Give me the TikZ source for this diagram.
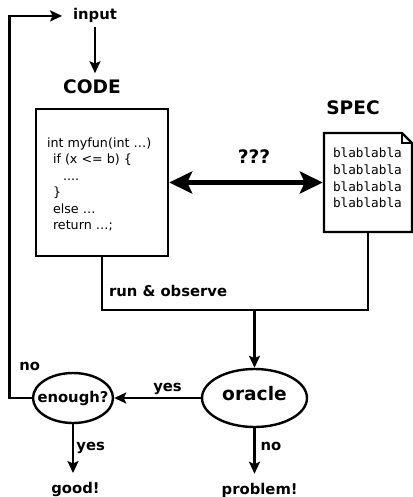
\documentclass[tikz,border=0pt]{standalone}
\usepackage{fontspec}
\setmainfont{DejaVu Sans}
\newfontfamily\blamono{DejaVu Sans Mono}
\usetikzlibrary{arrows.meta,shapes.geometric}

\begin{document}
\begin{tikzpicture}[x=1pt,y=-1pt,
  every node/.style={inner sep=0pt, outer sep=0pt},
  lbl/.style={font=\fontsize{14.8}{17}\selectfont\bfseries, anchor=base},
  biglbl/.style={font=\fontsize{18.6}{21}\selectfont\bfseries, anchor=base},
  codeline/.style={font=\fontsize{12.7}{15}\selectfont, anchor=base west},
  blaline/.style={font=\blamono\fontsize{12.7}{15}\selectfont, anchor=base west},
  frame/.style={draw, line width=2.4pt},
  wire/.style={line width=2.4pt},
  flow/.style={line width=2.4pt, shorten >=1.2pt,
    -{Stealth[length=12pt,width=11pt,inset=2.5pt]}},
]
\useasboundingbox (0,0) rectangle (412,497);

% input and the code under test
\node[lbl] (input) at (95,20) {input};
\node[biglbl] (codelbl) at (92,94) {CODE};
\node[frame, minimum width=132pt, minimum height=147pt] (code) at (102,182.5) {};
\node[codeline] (cl1) at (47,147) {int myfun(int …)};
\node[codeline] (cl2) at (53,163.5) {if (x <= b) \{};
\node[codeline] (cl3) at (63,180) {....};
\node[codeline] (cl4) at (53,196.5) {\}};
\node[codeline] (cl5) at (53,213) {else …};
\node[codeline] (cl6) at (53,229.5) {return …;};

% the specification sheet with a folded corner
\node[biglbl] (speclbl) at (353,115) {SPEC};
\node[minimum width=88pt, minimum height=99pt] (spec) at (368,182.5) {};
\draw[wire] (spec.north west) -- ([xshift=-10pt]spec.north east)
  -- ([yshift=-10pt]spec.north east) -- (spec.south east)
  -- (spec.south west) -- cycle;
\draw[wire] ([xshift=-10pt]spec.north east)
  -- ([xshift=-10pt,yshift=-10pt]spec.north east)
  -- ([yshift=-10pt]spec.north east);
\node[blaline] (b1) at (333,157.7) {blablabla};
\node[blaline] (b2) at (333,174.3) {blablabla};
\node[blaline] (b3) at (333,191) {blablabla};
\node[blaline] (b4) at (333,207.7) {blablabla};

% the unknown relation between code and spec
\node[biglbl] (q) at (254,164) {???};
\draw[line width=5.5pt, shorten <=1.2pt, shorten >=1.2pt,
  {Stealth[length=23pt,width=22pt,inset=5pt]}-{Stealth[length=23pt,width=22pt,inset=5pt]}]
  (code.east) -- (spec.west);

% decisions
\node[ellipse, frame, minimum width=105pt, minimum height=58pt,
  font=\fontsize{18.6}{21}\selectfont\bfseries,
  text height=14.1pt, text depth=8.7pt] (oracle) at (254.5,398)
  {\makebox[20pt]{oracle}};
\node[ellipse, frame, minimum width=80pt, minimum height=50pt,
  font=\fontsize{14.8}{17}\selectfont\bfseries] (enough) at (73,398)
  {\makebox[20pt]{enough?}};

\node[lbl, anchor=base west] (run) at (109,296) {run \& observe};
\node[lbl] (yes1) at (167.5,391.7) {yes};
\node[lbl] (no1) at (29.7,370) {no};
\node[lbl] (yes2) at (90.7,450) {yes};
\node[lbl] (no2) at (271,450) {no};
\node[lbl] (good) at (75.5,493.3) {good!};
\node[lbl] (problem) at (259.7,494) {problem!};

% connectors
\coordinate (join) at (254.5,310);
\coordinate (loop) at (9.5,398);
\draw[flow, shorten <=3.5pt, shorten >=7pt] (input.south) -- (input.south |- codelbl.north);
\draw[wire] (code.south) |- (join) -| (spec.south);
\draw[flow] (join) -- (oracle.north);
\draw[flow] (oracle.west) -- (enough.east);
\draw[flow, shorten >=11pt] (enough.west) -- (loop) |- (input.west);
\draw[flow, shorten >=9pt] (enough.south) -- (enough.south |- good.north);
\draw[flow, shorten >=9pt] (oracle.south) -- (oracle.south |- problem.north);
\end{tikzpicture}
\end{document}
